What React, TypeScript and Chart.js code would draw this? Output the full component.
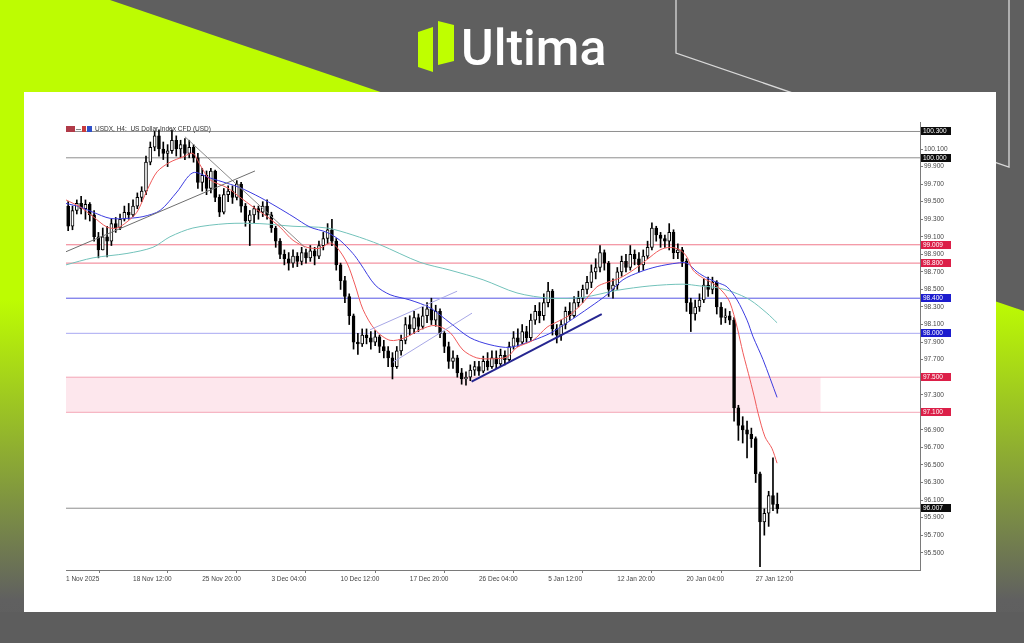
import React, { useEffect, useRef } from "react";
import { Chart, registerables } from "chart.js";

Chart.register(...registerables);

// ---------- DATA ----------
const FIRST_OPEN = 99.45;
const CLOSE = [
  99.22, 99.40, 99.48, 99.42, 99.47, 99.35, 99.10, 98.95, 99.10, 99.05,
  99.25, 99.20, 99.30, 99.38, 99.35, 99.45, 99.55, 99.62, 99.95, 100.12,
  100.25, 100.10, 100.05, 100.08, 100.20, 100.10, 100.15, 100.05, 100.12, 100.00,
  99.72, 99.80, 99.65, 99.85, 99.55, 99.38, 99.58, 99.62, 99.55, 99.70,
  99.45, 99.28, 99.35, 99.42, 99.38, 99.45, 99.35, 99.20, 99.05, 98.90,
  98.85, 98.80, 98.88, 98.82, 98.92, 98.86, 98.94, 98.88, 99.00, 99.08,
  99.18, 99.05, 98.78, 98.60, 98.42, 98.20, 97.90, 97.88, 97.98, 97.95,
  97.90, 97.96, 97.85, 97.80, 97.72, 97.62, 97.80, 97.92, 98.10, 98.05,
  98.18, 98.08, 98.20, 98.28, 98.15, 98.25, 98.00, 97.85, 97.68, 97.72,
  97.55, 97.48, 97.50, 97.58, 97.62, 97.57, 97.68, 97.62, 97.72, 97.65,
  97.75, 97.70, 97.85, 97.95, 97.90, 98.02, 97.95, 98.15, 98.25, 98.20,
  98.35, 98.48, 98.05, 97.98, 98.10, 98.25, 98.20, 98.35, 98.40, 98.50,
  98.58, 98.70, 98.75, 98.92, 98.80, 98.50, 98.55, 98.70, 98.82, 98.75,
  98.90, 98.85, 98.78, 98.88, 98.98, 99.20, 99.12, 99.08, 99.05, 99.15,
  98.92, 98.95, 98.82, 98.35, 98.22, 98.30, 98.38, 98.55, 98.50, 98.58,
  98.30, 98.18, 98.20, 98.15, 97.15, 96.95, 96.90, 96.85, 96.80, 96.40,
  95.85, 95.95, 96.15, 96.05, 96.00,
];
const HIGH = [
  99.50, 99.45, 99.52, 99.56, 99.52, 99.49, 99.40, 99.15, 99.20, 99.22,
  99.30, 99.32, 99.36, 99.45, 99.48, 99.52, 99.60, 99.67, 100.02, 100.18,
  100.30, 100.32, 100.18, 100.15, 100.32, 100.25, 100.20, 100.22, 100.20, 100.15,
  100.05, 99.88, 99.85, 99.88, 99.86, 99.58, 99.65, 99.68, 99.68, 99.74,
  99.72, 99.48, 99.40, 99.45, 99.45, 99.50, 99.52, 99.38, 99.22, 99.08,
  98.95, 98.92, 98.95, 98.92, 98.98, 98.96, 99.00, 98.98, 99.05, 99.15,
  99.25, 99.30, 99.08, 98.80, 98.65, 98.45, 98.22, 98.00, 98.05, 98.05,
  98.02, 98.03, 97.98, 97.92, 97.85, 97.78, 97.85, 97.98, 98.18, 98.20,
  98.25, 98.22, 98.30, 98.35, 98.40, 98.32, 98.28, 98.02, 97.90, 97.80,
  97.75, 97.60, 97.56, 97.64, 97.68, 97.68, 97.74, 97.78, 97.80, 97.80,
  97.82, 97.80, 97.90, 98.02, 98.05, 98.10, 98.08, 98.22, 98.32, 98.35,
  98.45, 98.58, 98.50, 98.10, 98.15, 98.30, 98.35, 98.42, 98.48, 98.55,
  98.65, 98.78, 98.85, 99.00, 98.95, 98.82, 98.62, 98.75, 98.88, 98.90,
  99.00, 98.95, 98.92, 98.95, 99.05, 99.26, 99.22, 99.15, 99.12, 99.25,
  99.18, 99.02, 98.98, 98.85, 98.40, 98.38, 98.45, 98.62, 98.64, 98.64,
  98.60, 98.35, 98.28, 98.25, 98.18, 97.18, 97.05, 97.00, 96.92, 96.82,
  96.42, 96.00, 96.20, 96.58, 96.18,
];
const LOW = [
  99.17, 99.18, 99.36, 99.36, 99.30, 99.28, 99.05, 98.86, 98.95, 98.87,
  99.00, 99.15, 99.18, 99.28, 99.30, 99.33, 99.42, 99.50, 99.58, 99.92,
  100.08, 100.02, 99.98, 99.90, 100.05, 100.02, 100.00, 99.98, 100.00, 99.95,
  99.65, 99.62, 99.58, 99.60, 99.50, 99.33, 99.36, 99.50, 99.48, 99.52,
  99.38, 99.22, 99.00, 99.26, 99.30, 99.33, 99.30, 99.15, 98.98, 98.85,
  98.78, 98.72, 98.75, 98.76, 98.78, 98.80, 98.82, 98.78, 98.85, 98.95,
  99.02, 99.00, 98.72, 98.50, 98.35, 98.10, 97.82, 97.76, 97.85, 97.88,
  97.82, 97.86, 97.78, 97.72, 97.62, 97.48, 97.60, 97.75, 97.88, 97.98,
  98.00, 98.02, 98.05, 98.12, 98.10, 98.08, 97.95, 97.78, 97.60, 97.60,
  97.50, 97.42, 97.41, 97.46, 97.52, 97.52, 97.55, 97.58, 97.60, 97.60,
  97.62, 97.64, 97.68, 97.82, 97.85, 97.88, 97.90, 97.92, 98.10, 98.12,
  98.15, 98.30, 97.98, 97.89, 97.92, 98.05, 98.15, 98.18, 98.30, 98.35,
  98.45, 98.52, 98.62, 98.70, 98.72, 98.42, 98.40, 98.50, 98.65, 98.70,
  98.72, 98.78, 98.70, 98.72, 98.85, 98.95, 99.05, 98.98, 98.98, 98.95,
  98.85, 98.85, 98.76, 98.25, 98.02, 98.15, 98.25, 98.35, 98.42, 98.45,
  98.22, 98.10, 98.12, 98.10, 97.00, 96.78, 96.75, 96.58, 96.70, 96.30,
  95.34, 95.70, 95.80, 95.98, 95.95,
];

// moving averages: [bar position, value]
const MA_FAST = [
  [0, 99.52], [6.5, 99.44], [12.5, 99.33], [19, 99.21], [23.6, 99.2], [28.2, 99.27], [32.8, 99.38],
  [37.5, 99.63], [42.1, 99.84], [48.1, 99.95], [54.1, 100.01], [58.7, 100.05], [62, 99.92],
  [66.6, 99.75], [74.5, 99.66], [80.5, 99.55], [86.5, 99.44], [93, 99.33], [99, 99.21],
  [105, 99.06], [111.5, 98.98], [117.5, 98.97], [122.1, 99.03], [125.3, 98.98], [130, 98.8],
  [133.7, 98.55], [137.4, 98.27], [143, 98.04], [149.9, 97.92], [156.8, 97.95], [163.7, 98.04],
  [170.7, 98.09], [177.6, 98.01], [183.6, 97.81], [190, 97.72], [197.5, 97.71], [204, 97.73],
  [208.6, 97.84], [216, 97.92], [222.5, 98.07], [227.1, 98.13], [233.1, 98.21], [239.1, 98.35],
  [245.6, 98.53], [250.2, 98.58], [256.2, 98.63], [262.3, 98.72], [268.7, 98.84], [274.7, 98.95],
  [279.4, 98.98], [284, 98.95], [287.2, 98.87], [290, 98.72], [294.6, 98.63], [299.3, 98.57],
  [303.9, 98.47], [307.1, 98.35], [310.4, 98.07], [313.1, 97.78], [316.4, 97.47], [318.7, 97.24],
  [320.1, 97.09], [323.3, 96.82], [326.5, 96.69], [328.9, 96.52],
];
const MA_MID = [
  [0, 99.48], [6.5, 99.44], [12.5, 99.38], [20.4, 99.31], [28.2, 99.31], [35.6, 99.33],
  [43.5, 99.4], [51.3, 99.61], [58.7, 99.83], [66.6, 99.77], [74.5, 99.71], [80.5, 99.66],
  [89.7, 99.55], [97.6, 99.44], [105, 99.33], [112.9, 99.21], [120.7, 99.15], [126.7, 99.06],
  [132.7, 98.91], [136, 98.8], [143, 98.55], [149.9, 98.44], [159.1, 98.38], [168.4, 98.29],
  [177.6, 98.12], [186.9, 97.95], [196.1, 97.87], [205.4, 97.84], [216, 97.92], [223.9, 98.0],
  [231.7, 98.12], [242.4, 98.3], [250.2, 98.44], [257.6, 98.61], [265.5, 98.7], [273.4, 98.76],
  [282.6, 98.8], [287.2, 98.8], [291.9, 98.7], [296.5, 98.63], [301.1, 98.58], [305.7, 98.53],
  [310.4, 98.38], [315, 98.15], [317.8, 97.96], [322.4, 97.7], [328.9, 97.27],
];
const MA_SLOW = [
  [0, 98.78], [12.5, 98.86], [28.2, 98.91], [40.2, 98.98], [48.1, 99.1], [58.7, 99.2],
  [74.5, 99.25], [89.7, 99.25], [105, 99.22], [120.7, 99.2], [132.7, 99.12], [145.2, 99.01],
  [163.7, 98.81], [177.6, 98.72], [192.9, 98.61], [208.6, 98.46], [223.9, 98.4], [239.1, 98.41],
  [254.9, 98.49], [270.1, 98.54], [285.4, 98.56], [293.2, 98.54], [301.1, 98.52], [308.5, 98.47],
  [316.4, 98.38], [324.2, 98.23], [328.9, 98.12],
];

const LEVELS = [100.3, 100.0, 99.009, 98.8, 98.4, 98.0, 97.5, 97.1, 96.007];
const ZONE = [97.1, 97.5];
const ZONE_END = 349;

const TRENDLINES = [
  [[0, 98.93], [87.4, 99.85]],
  [[55, 100.24], [110.5, 98.98]],
  [[140.6, 98.04], [180.9, 98.48]],
  [[151.2, 97.67], [187.8, 98.23]],
  [[187.6, 97.45], [247.8, 98.22]],
];

const Y_TICKS = [95.5, 95.7, 95.9, 96.1, 96.3, 96.5, 96.7, 96.9, 97.1, 97.3, 97.5, 97.7, 97.9, 98.1, 98.3, 98.5, 98.7, 98.9, 99.1, 99.3, 99.5, 99.7, 99.9, 100.1];
const X_TICK_POS = [0, 31, 63, 95, 127, 159, 191, 223, 255, 287, 319];
const X_TICK_LABELS = ["1 Nov 2025", "18 Nov 12:00", "25 Nov 20:00", "3 Dec 04:00", "10 Dec 12:00", "17 Dec 20:00", "26 Dec 04:00", "5 Jan 12:00", "12 Jan 20:00", "20 Jan 04:00", "27 Jan 12:00"];

const X_MIN = 0;
const X_MAX = 395;
const Y_MIN = 95.303;
const Y_MAX = 100.408;

// ---------- STYLES ----------
const LEVEL_LINE_COLORS = ["#8e8e8e", "#8e8e8e", "#f0788a", "#f0788a", "#5656e4", "#a9a9f2", "#f4a6b6", "#f4a6b6", "#8e8e8e"];
const LEVEL_TAG_COLORS = ["#0c0c0c", "#0c0c0c", "#dc1f48", "#dc1f48", "#1c1cce", "#1c1cce", "#dc1f48", "#dc1f48", "#0c0c0c"];
const TREND_COLORS = ["#6e6e6e", "#8a8a8a", "#a7a7e6", "#a7a7e6", "#262690"];
const TREND_WIDTHS = [1, 1, 1, 1, 2];
const FONT = '"Liberation Sans", Arial, sans-serif';

const overlayPlugin = {
  id: "overlay",
  beforeDatasetsDraw(chart: any) {
    const { ctx, scales } = chart;
    const x = scales.x;
    const y = scales.y;
    const yTop = y.getPixelForValue(ZONE[1]);
    const yBot = y.getPixelForValue(ZONE[0]);
    const x0 = x.getPixelForValue(X_MIN);
    const x1 = x.getPixelForValue(ZONE_END);
    ctx.save();
    ctx.fillStyle = "#fde7ed";
    ctx.fillRect(x0, yTop, x1 - x0, yBot - yTop);
    ctx.restore();
  },
  afterDraw(chart: any) {
    const { ctx, chartArea, scales } = chart;
    const y = scales.y;
    ctx.save();
    ctx.font = `6.5px ${FONT}`;
    ctx.textBaseline = "middle";
    ctx.textAlign = "left";
    LEVELS.forEach((v, i) => {
      const py = Math.round(y.getPixelForValue(v));
      ctx.fillStyle = LEVEL_TAG_COLORS[i];
      ctx.fillRect(chartArea.right + 1, py - 4, 30, 8);
      ctx.fillStyle = "#ffffff";
      ctx.fillText(v.toFixed(3), chartArea.right + 3, py + 0.5);
    });
    ctx.restore();
  },
};

export default function App() {
  const ref = useRef<HTMLCanvasElement>(null);

  useEffect(() => {
    const opens = [FIRST_OPEN, ...CLOSE.slice(0, -1)];
    const xs = CLOSE.map((_, j) => 1 + 2 * j);
    const wickData = CLOSE.map((c, j) => ({
      x: xs[j],
      y: [Math.min(LOW[j], opens[j], c), Math.max(HIGH[j], opens[j], c)],
    }));
    const bodyData = CLOSE.map((c, j) => ({ x: xs[j], y: [opens[j], c] }));
    const bodyColors = CLOSE.map((c, j) => (c >= opens[j] ? "#ffffff" : "#000000"));

    const lineDs = (pts: number[][], color: string, width: number, order: number, tension = 0) => ({
      type: "line" as const,
      data: pts.map((p) => ({ x: p[0], y: p[1] })),
      borderColor: color,
      borderWidth: width,
      pointRadius: 0,
      tension,
      order,
    });

    const datasets: any[] = [
      ...LEVELS.map((v, i) => lineDs([[X_MIN, v], [X_MAX, v]], LEVEL_LINE_COLORS[i], 1, 10)),
      {
        type: "bar",
        data: wickData,
        backgroundColor: "#000000",
        barThickness: 1,
        grouped: false,
        order: 6,
      },
      {
        type: "bar",
        data: bodyData,
        backgroundColor: bodyColors,
        borderColor: "#000000",
        borderWidth: 1,
        borderSkipped: false,
        barThickness: 3,
        grouped: false,
        order: 5,
      },
      lineDs(MA_SLOW, "#72c2ba", 1, 3, 0.3),
      lineDs(MA_MID, "#3c3ce0", 1, 2, 0.3),
      lineDs(MA_FAST, "#f05a5a", 1, 1, 0.3),
      ...TRENDLINES.map((t, i) => lineDs(t, TREND_COLORS[i], TREND_WIDTHS[i], 0)),
    ];

    const tickFont = { family: FONT, size: 6.5 };

    const chart = new Chart(ref.current as HTMLCanvasElement, {
      type: "bar",
      data: { datasets },
      options: {
        responsive: false,
        animation: false,
        devicePixelRatio: 1,
        events: [],
        layout: { padding: { left: 42, top: 30, right: 36, bottom: 22 } },
        plugins: { legend: { display: false }, tooltip: { enabled: false }, title: { display: false } },
        scales: {
          x: {
            type: "linear",
            position: "bottom",
            min: X_MIN,
            max: X_MAX,
            offset: false,
            afterBuildTicks: (axis: any) => {
              axis.ticks = X_TICK_POS.map((v) => ({ value: v }));
            },
            afterFit: (axis: any) => {
              axis.height = 20;
            },
            grid: { display: true, drawOnChartArea: false, drawTicks: true, tickLength: 3, color: "#7a7a7a" },
            border: { display: true, color: "#7a7a7a" },
            ticks: {
              align: "start",
              autoSkip: false,
              maxRotation: 0,
              padding: 2,
              color: "#444444",
              font: tickFont,
              callback: (_v: any, i: number) => X_TICK_LABELS[i],
            },
          },
          y: {
            type: "linear",
            position: "right",
            min: Y_MIN,
            max: Y_MAX,
            afterBuildTicks: (axis: any) => {
              axis.ticks = Y_TICKS.map((v) => ({ value: v }));
            },
            afterFit: (axis: any) => {
              axis.width = 40;
            },
            grid: { display: true, drawOnChartArea: false, drawTicks: true, tickLength: 3, color: "#7a7a7a" },
            border: { display: true, color: "#7a7a7a" },
            ticks: {
              padding: 1,
              color: "#444444",
              font: tickFont,
              callback: (v: any) => Number(v).toFixed(3),
            },
          },
        },
      } as any,
      plugins: [overlayPlugin],
    });
    return () => chart.destroy();
  }, []);

  return (
    <div
      style={{
        position: "fixed",
        left: 0,
        top: 0,
        width: 1024,
        height: 643,
        overflow: "hidden",
        background: "linear-gradient(to bottom, #bdfc02 0px, #bdfc02 300px, #606060 600px, #5e5e5e 643px)",
      }}
    >
      <div
        style={{
          position: "absolute",
          inset: 0,
          background: "#5f5f5f",
          clipPath: "polygon(110px 0px, 1024px 0px, 1024px 311px)",
        }}
      />
      <div style={{ position: "absolute", left: 0, top: 612, width: 1024, height: 31, background: "#5d5d5d" }} />
      <svg width={1024} height={643} style={{ position: "absolute", left: 0, top: 0 }}>
        <polyline points="676,0 676,53 1009,167 1009,0" fill="none" stroke="#d9d9d9" strokeWidth={1.3} />
        <polygon points="418,32 433,27 433,72 418,67" fill="#bfff00" />
        <polygon points="438,21 454,25 454,61 438,65" fill="#bfff00" />
      </svg>
      <div
        style={{
          position: "absolute",
          left: 461,
          top: 23,
          fontFamily: "Roboto, 'Open Sans', sans-serif",
          fontWeight: 500,
          fontSize: 50,
          lineHeight: "50px",
          color: "#ffffff",
          whiteSpace: "nowrap",
        }}
      >
        Ultima
      </div>
      <div style={{ position: "absolute", left: 24, top: 92, width: 972, height: 520, background: "#ffffff" }}>
        <canvas ref={ref} width={972} height={520} style={{ display: "block" }} />
        <div
          style={{
            position: "absolute",
            left: 42,
            top: 33,
            height: 8,
            display: "flex",
            alignItems: "center",
            gap: 1,
          }}
        >
          <span style={{ display: "inline-block", width: 9, height: 6, background: "#b03a48" }} />
          <span style={{ display: "inline-block", width: 5, height: 1, background: "#888" }} />
          <span style={{ display: "inline-block", width: 4, height: 6, background: "#c83c3c" }} />
          <span style={{ display: "inline-block", width: 5, height: 6, background: "#3050c8", marginRight: 3 }} />
        </div>
        <div
          style={{
            position: "absolute",
            left: 71,
            top: 33,
            fontFamily: FONT,
            fontSize: 6.5,
            lineHeight: "8px",
            color: "#333333",
            whiteSpace: "nowrap",
          }}
        >
          USDX, H4:&nbsp; US Dollar Index CFD (USD)
        </div>
      </div>
    </div>
  );
}
